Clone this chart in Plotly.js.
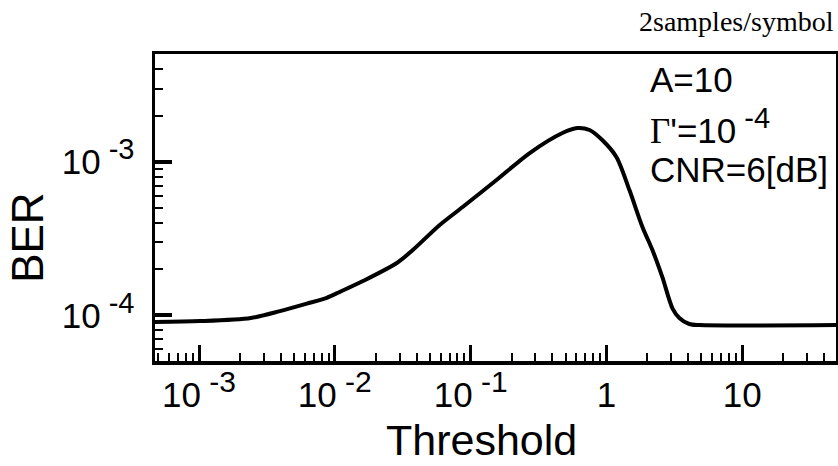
<!DOCTYPE html>
<html>
<head>
<meta charset="utf-8">
<script src="https://cdn.plot.ly/plotly-3.0.1.min.js"></script>
<style>html,body{margin:0;padding:0;background:#fff;}#chart{width:838px;height:466px;}</style>
</head>
<body>
<div id="chart"></div>
<script>
// Data
var threshold = [0.000474, 0.00102, 0.00241, 0.00394, 0.00622, 0.00873, 0.0109, 0.0161, 0.0286, 0.0375, 0.0592, 0.0873, 0.155, 0.272, 0.474, 0.612, 0.75, 0.935, 1.186, 1.476, 1.84, 2.18, 2.58, 3.06, 3.44, 4.07, 4.83, 49];
var ber = [9.04e-5, 9.16e-5, 9.6e-5, 1.064e-4, 1.19e-4, 1.3e-4, 1.42e-4, 1.67e-4, 2.19e-4, 2.66e-4, 3.87e-4, 5.07e-4, 7.6e-4, 1.14e-3, 1.54e-3, 1.66e-3, 1.61e-3, 1.38e-3, 1.07e-3, 6.54e-4, 3.76e-4, 2.66e-4, 1.77e-4, 1.11e-4, 9.6e-5, 8.77e-5, 8.63e-5, 8.63e-5];
var xTickVals = [0.001, 0.01, 0.1, 1, 10];
var xTickText = ['10<sup><span style="font-size:30px"> -3</span></sup>', '10<sup><span style="font-size:30px"> -2</span></sup>', '10<sup><span style="font-size:30px"> -1</span></sup>', '1', '10'];
var yTickVals = [0.001, 0.0001];
var yTickText = ['10<sup><span style="font-size:29px"> -3</span></sup>', '10<sup><span style="font-size:29px"> -4</span></sup>'];

function minorVals(d0, d1) {
  var v = [];
  for (var d = d0; d <= d1; d++) {
    for (var m = 2; m <= 9; m++) v.push(m * Math.pow(10, d));
  }
  return v;
}

var font = 'Liberation Sans, Arial, Helvetica, sans-serif';
var trace = {
  x: threshold, y: ber, type: 'scatter', mode: 'lines',
  line: {color: '#000', width: 4, shape: 'spline', smoothing: 0.8},
  hoverinfo: 'none'
};
var layout = {
  width: 838, height: 466,
  margin: {l: 155, r: 2, t: 54, b: 105},
  paper_bgcolor: '#fff', plot_bgcolor: '#fff',
  showlegend: false,
  font: {family: font, color: '#000', size: 36},
  xaxis: {
    type: 'log', range: [-3.324, 1.69],
    showgrid: false, zeroline: false,
    showline: true, linecolor: '#000', linewidth: 3.5, mirror: true,
    ticks: 'inside', ticklen: 16, tickwidth: 3, tickcolor: '#000',
    tickvals: xTickVals, ticktext: xTickText,
    tickfont: {family: font, size: 35, color: '#000'},
    ticklabelstandoff: 0,
    minor: {ticks: 'inside', ticklen: 8, tickwidth: 2, tickcolor: '#000', tickvals: minorVals(-4, 1)},
    automargin: false
  },
  yaxis: {
    type: 'log', range: [-4.298, -2.298],
    showgrid: false, zeroline: false,
    showline: true, linecolor: '#000', linewidth: 3.5, mirror: true,
    ticks: 'inside', ticklen: 17, tickwidth: 4, tickcolor: '#000',
    tickvals: yTickVals, ticktext: yTickText,
    tickfont: {family: font, size: 35, color: '#000'},
    ticklabelstandoff: 10,
    minor: {ticks: 'inside', ticklen: 8, tickwidth: 2, tickcolor: '#000', tickvals: minorVals(-5, -3)},
    automargin: false
  },
  annotations: [
    {text: 'Threshold', xref: 'paper', yref: 'paper', x: 0.48, y: 0, yshift: -79, xanchor: 'center', yanchor: 'middle',
     showarrow: false, font: {family: font, size: 43, color: '#000'}},
    {text: 'BER', xref: 'paper', yref: 'paper', x: -0.187, y: 0.40, xanchor: 'center', yanchor: 'middle',
     textangle: -90, showarrow: false, font: {family: font, size: 44, color: '#000'}},
    {text: '2samples/symbol', xref: 'paper', yref: 'paper', x: 1.0, y: 1.0, yshift: 33, xanchor: 'right', yanchor: 'middle',
     showarrow: false, font: {family: 'Liberation Serif, Times New Roman, serif', size: 28, color: '#000'}},
    {text: 'A=10', xref: 'paper', yref: 'paper', x: 0.724, y: 0.918, xanchor: 'left', yanchor: 'middle',
     showarrow: false, font: {family: font, size: 35, color: '#000'}},
    {text: "<span style=\"font-family:'Liberation Serif',serif\">Γ</span>'=10<sup><span style=\"font-size:29px\"> -4</span></sup>", xref: 'paper', yref: 'paper', x: 0.724, y: 0.765, xanchor: 'left', yanchor: 'middle',
     showarrow: false, font: {family: font, size: 35, color: '#000'}},
    {text: 'CNR=6[dB]', xref: 'paper', yref: 'paper', x: 0.724, y: 0.624, xanchor: 'left', yanchor: 'middle',
     showarrow: false, font: {family: font, size: 35, color: '#000'}}
  ]
};
Plotly.newPlot('chart', [trace], layout, {staticPlot: true, displayModeBar: false});
</script>
</body>
</html>
